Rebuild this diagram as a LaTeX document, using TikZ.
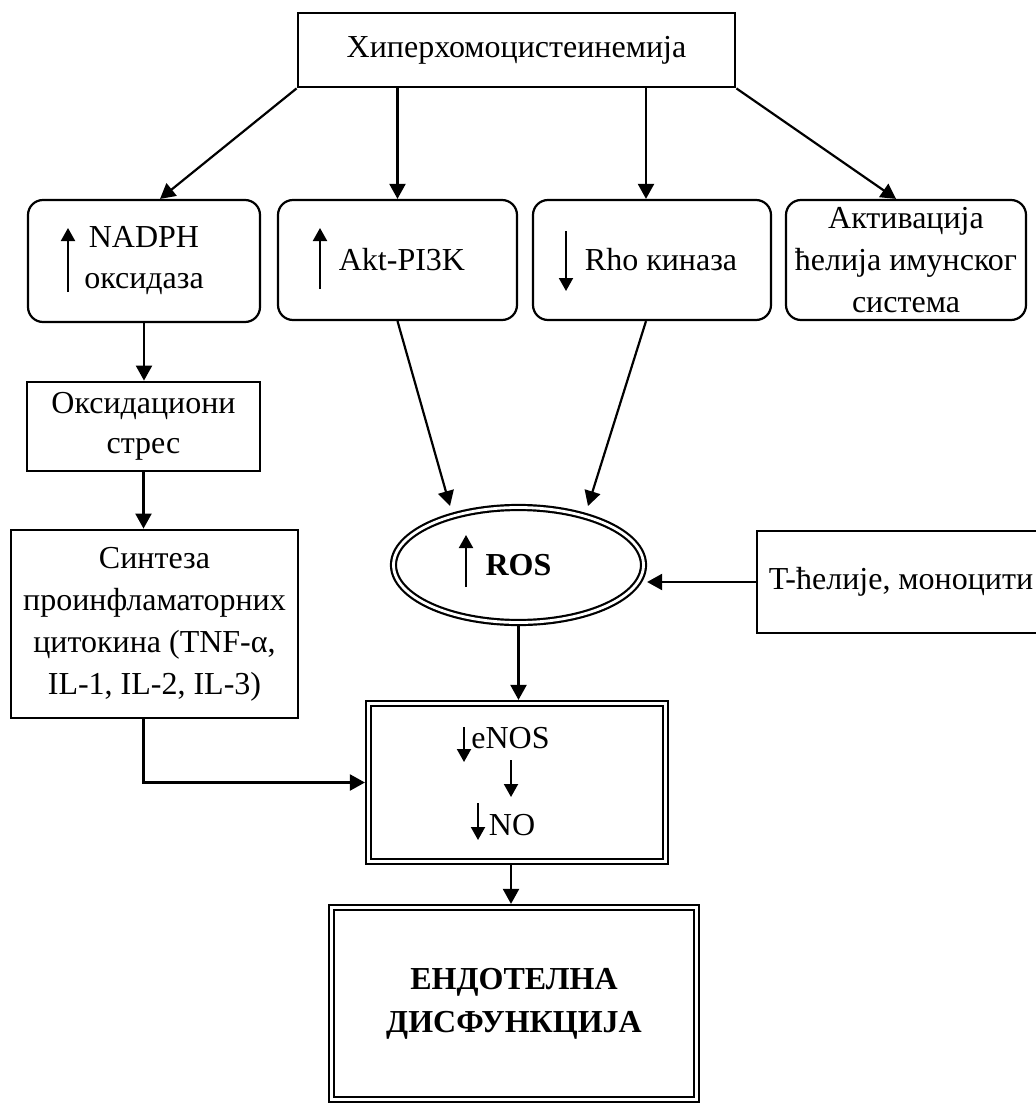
\documentclass[tikz,border=0pt]{standalone}
\usepackage{fontspec}
\setmainfont{Liberation Serif}
\usetikzlibrary{arrows.meta,shapes.geometric,calc}
\begin{document}
\begin{tikzpicture}[x=0.5pt,y=-0.5pt,
  every node/.style={font=\fontsize{16}{21}\selectfont, inner sep=0pt},
  sqbox/.style={draw, line width=1.4pt, align=center},
  rbox/.style={draw, line width=1.1pt, rounded corners=7.5pt, align=center},
  dbox/.style={draw, line width=1.1pt, double, double distance=1.4pt, outer sep=1.8pt, align=center},
  arr/.style={line width=1.1pt, -{Triangle[length=7.5pt,width=8pt]}},
  sarr/.style={line width=1pt, -{Triangle[length=6.5pt,width=7pt]}},
]
\useasboundingbox (0,0) rectangle (1036,1103);

% nodes
\node[sqbox, minimum width=218.5pt, minimum height=37pt] (top) at (516.5,50) {Хиперхомоцистеинемија};
\node[rbox, minimum width=116pt, minimum height=61pt, font=\fontsize{16}{20.5}\selectfont] (nadph) at (144,261) {NADPH\\оксидаза};
\node[rbox, minimum width=119.5pt, minimum height=60pt] (akt) at (397.5,260) {\hspace*{4.5pt}Akt-PI3K};
\node[rbox, minimum width=119pt, minimum height=60pt] (rho) at (652,260) {\hspace*{9pt}Rho киназа};
\node[rbox, minimum width=120pt, minimum height=60pt] (act) at (906,260) {Активација\\ћелија имунског\\система};
\node[sqbox, minimum width=116.5pt, minimum height=44.5pt, font=\fontsize{16}{20}\selectfont] (oks) at (143.5,426.5) {Оксидациони\\стрес};
\node[sqbox, minimum width=143.5pt, minimum height=94pt] (sint) at (154.5,624) {Синтеза\\проинфламаторних\\цитокина (TNF-α,\\IL-1, IL-2, IL-3)};
\node[dbox, ellipse, minimum width=125pt, minimum height=57.5pt] (ros) at (518.5,565) {\textbf{ROS}};
\node[sqbox, minimum width=144pt, minimum height=51pt] (tbox) at (901,582) {T-ћелије, моноцити};
\node[dbox, minimum width=148.5pt, minimum height=79pt] (enos) at (517,782.5) {};
\node[dbox, minimum width=182.5pt, minimum height=96pt, font=\bfseries\fontsize{16}{21.5}\selectfont] (end) at (514,1003.5) {ЕНДОТЕЛНА\\ДИСФУНКЦИЈА};

% texts inside eNOS box
\node[anchor=base] (enostxt) at ($(enos.center)+(-6.5,-34.5)$) {eNOS};
\node[anchor=base] (notxt) at ($(enos.center)+(-5,52.5)$) {NO};

% helper coordinates
\coordinate (rhoin) at ([xshift=-3pt]rho.north);
\coordinate (enosout) at ([xshift=-3pt]enos.south);

% connectors
\draw[arr] (top.south west) -- ([xshift=8pt]nadph.north);
\draw[arr] (akt.north |- top.south) -- (akt.north);
\draw[arr] (rhoin |- top.south) -- (rhoin);
\draw[arr] (top.south east) -- ([xshift=-5pt]act.north);
\draw[arr] (nadph.south) -- (nadph.south |- oks.north);
\draw[arr] (oks.south) -- (oks.south |- sint.north);
\draw[arr] (akt.south) -- ($(ros.center)+(-68.5,-59)$);
\draw[arr] (rhoin |- rho.south) -- ($(ros.center)+(69.5,-59)$);
\draw[arr] (tbox.west) -- (tbox.west -| ros.east);
\draw[arr] (ros.south) -- (ros.south |- enos.north);
\draw[arr] (oks.south |- sint.south) |- (enos.west);
\draw[arr] (enosout) -- (enosout |- end.north);

% small trend arrows
\draw[sarr] ($(nadph.center)+(-76,31)$) -- ($(nadph.center)+(-76,-33)$);
\draw[sarr] ($(akt.center)+(-77.5,29)$) -- ($(akt.center)+(-77.5,-32)$);
\draw[sarr] ($(rho.center)+(-86,-29)$) -- ($(rho.center)+(-86,31)$);
\draw[sarr] ($(ros.center)+(-52.5,22)$) -- ($(ros.center)+(-52.5,-30)$);
\draw[sarr] ($(enos.center)+(-53,-55.5)$) -- ($(enos.center)+(-53,-20.5)$);
\draw[sarr] ($(enos.center)+(-6,-22.5)$) -- ($(enos.center)+(-6,14.5)$);
\draw[sarr] ($(enos.center)+(-39,20.5)$) -- ($(enos.center)+(-39,57.5)$);
\end{tikzpicture}
\end{document}
